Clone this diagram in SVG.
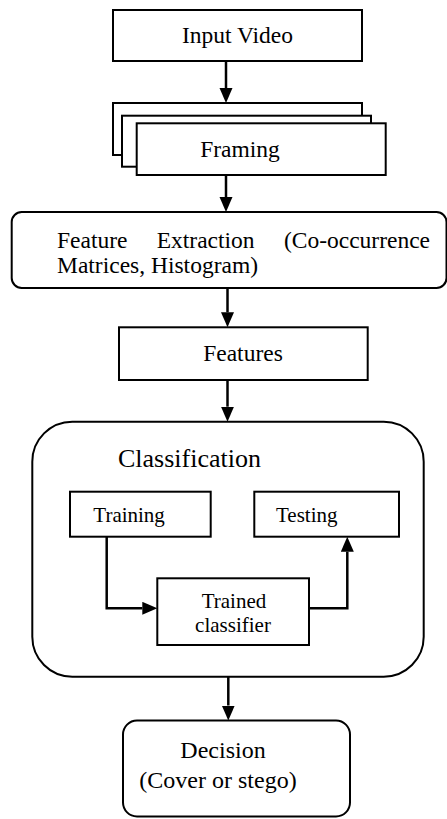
<svg xmlns="http://www.w3.org/2000/svg" width="447" height="819" viewBox="0 0 447 819">
<style>
.box{fill:#fff;stroke:#000;stroke-width:2}
.t{font-family:'Liberation Serif','DejaVu Serif',serif;font-size:23.5px;fill:#000}
.s{font-size:21px}
.c{text-anchor:middle}
.ln{fill:none;stroke:#000;stroke-width:2.5}
</style>
<defs>
<marker id="ah" markerUnits="userSpaceOnUse" markerWidth="16" markerHeight="14" refX="0" refY="6.5" orient="auto">
<path d="M0,0 L15,6.5 L0,13 z" fill="#000"/>
</marker>
</defs>
<rect width="447" height="819" fill="#fff"/>
<g id="input-video">
<rect class="box" x="113" y="10" width="249" height="51"/>
<text class="t c" x="237.5" y="43">Input Video</text>
</g>
<g id="framing">
<rect class="box" x="113" y="103" width="249" height="52"/>
<rect class="box" x="122" y="115.7" width="249" height="51"/>
<rect class="box" x="136.7" y="123.3" width="249" height="51.7"/>
<text class="t c" x="240" y="157">Framing</text>
</g>
<g id="feature-extraction">
<rect class="box" x="11.7" y="212" width="434.8" height="76" rx="10"/>
<text class="t" y="248"><tspan x="57">Feature</tspan><tspan x="156.7">Extraction</tspan><tspan x="283.9">(Co-occurrence</tspan></text>
<text class="t" x="57" y="273">Matrices, Histogram)</text>
</g>
<g id="features">
<rect class="box" x="119" y="327.3" width="248.7" height="52.7"/>
<text class="t c" x="243" y="361">Features</text>
</g>
<g id="classification">
<rect class="box" x="32.3" y="421.7" width="391.4" height="255" rx="40"/>
<text class="t" x="118" y="467" style="font-size:26px">Classification</text>
</g>
<g id="training">
<rect class="box" x="70" y="491.7" width="140.7" height="45"/>
<text class="t s" x="93.3" y="521.7">Training</text>
</g>
<g id="testing">
<rect class="box" x="254.3" y="491.7" width="144.7" height="45"/>
<text class="t s" x="276" y="521.7">Testing</text>
</g>
<g id="trained-classifier">
<rect class="box" x="157.3" y="578.3" width="151.7" height="66.7"/>
<text class="t s c" x="234" y="608">Trained</text>
<text class="t s c" x="233" y="632">classifier</text>
</g>
<g id="decision">
<rect class="box" x="123" y="720.5" width="227" height="96" rx="14"/>
<text class="t c" x="223" y="758" style="font-size:24px">Decision</text>
<text class="t c" x="218" y="788" style="font-size:24px">(Cover or stego)</text>
</g>
<g id="connectors">
<line class="ln" x1="226" y1="61" x2="226" y2="88" marker-end="url(#ah)"/>
<line class="ln" x1="226" y1="175" x2="226" y2="197" marker-end="url(#ah)"/>
<line class="ln" x1="227.5" y1="288" x2="227.5" y2="312.3" marker-end="url(#ah)"/>
<line class="ln" x1="227.5" y1="380" x2="227.5" y2="406.7" marker-end="url(#ah)"/>
<polyline class="ln" points="106.7,536.7 106.7,608.3 142.3,608.3" marker-end="url(#ah)"/>
<polyline class="ln" points="309,608.3 347.3,608.3 347.3,551.7" marker-end="url(#ah)"/>
<line class="ln" x1="228.3" y1="676.7" x2="228.3" y2="705.5" marker-end="url(#ah)"/>
</g>
</svg>
